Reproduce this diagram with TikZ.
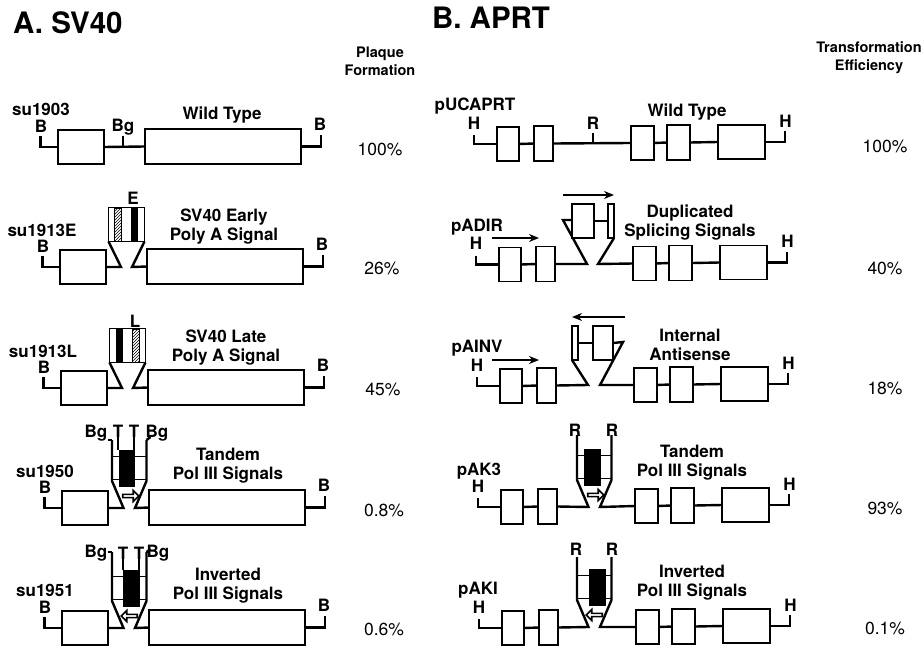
\documentclass[tikz,border=0pt]{standalone}
\usepackage{fontspec}
\setmainfont{TeX Gyre Heros}
\usepackage{tikz}
\usetikzlibrary{shapes.arrows,arrows.meta,patterns}

\begin{document}
\begin{tikzpicture}[x=1pt, y=-1pt,
    every node/.style={inner sep=0pt, outer sep=0pt},
    exon/.style 2 args={rectangle, draw, line width=1.8pt, fill=white, minimum width=#1pt, minimum height=#2pt},
    gene/.style={line width=2.4pt},
    lab/.style={font=\fontsize{17}{19}\selectfont\bfseries, align=center},
    head/.style={font=\fontsize{14.5}{18}\selectfont\bfseries, align=center},
    title/.style={font=\fontsize{29.5}{32}\selectfont\bfseries, anchor=west},
    pct/.style={font=\fontsize{17.5}{20}\selectfont},
    blackbar/.style={rectangle, fill=black},
    hatchbar/.style={rectangle, draw, line width=1pt, pattern=north east lines},
    signal/.style={single arrow, draw, fill=white, line width=1.6pt, minimum height=16pt, minimum width=11pt, single arrow head extend=2pt},
    sense/.style={-{Stealth[length=10pt,width=8pt]}, line width=2.4pt}]
    \useasboundingbox (0,0) rectangle (923,650);

    \node[title] (ta) at (13,23) {A. SV40};
    \node[title] (tb) at (432,18) {B. APRT};
    \node[head] (ha) at (380,61) {Plaque\\Formation};
    \node[head] (hb) at (869,57.5) {Transformation\\Efficiency};

    % panel A, rows
    \foreach \row/\dx/\dy in {1/0/0,2/2/120,3/3/241,4/4/361,5/4/481}{
      \begin{scope}[shift={(\dx,\dy)}]
        \node[exon={46}{34}] (a\row-1) at (81,147) {};
        \node[exon={156}{35}] (a\row-2) at (223,146.5) {};
        \node[lab] (a\row-bl) at (41,126.5) {B};
        \node[lab] (a\row-br) at (320,124.5) {B};
        \coordinate (a\row-sl) at (40.5,136);
        \coordinate (a\row-sr) at (321,135);
        \draw[gene] (a\row-sl) |- (a\row-1.west);
        \draw[gene] (a\row-2.east) -| (a\row-sr);
      \end{scope}}

    % panel B, rows
    \foreach \row/\dx/\dy in {1/0/0,2/2/120.5,3/3/242,4/4/363,5/5/484}{
      \begin{scope}[shift={(\dx,\dy)}]
        \node[exon={22}{34}] (b\row-1) at (508,144) {};
        \node[exon={19}{35}] (b\row-2) at (543.5,143.5) {};
        \node[exon={23}{34}] (b\row-3) at (642.5,143) {};
        \node[exon={23}{35}] (b\row-4) at (678.5,142.5) {};
        \node[exon={47}{34}] (b\row-5) at (741.5,142) {};
        \node[lab] (b\row-hl) at (474,123) {H};
        \node[lab] (b\row-hr) at (785.5,121) {H};
        \coordinate (b\row-sl) at (474,135);
        \coordinate (b\row-sr) at (785,131);
        \draw[gene] (b\row-sl) |- (b\row-1.west);
        \draw[gene] (b\row-1.east) -- (b\row-2.west);
        \draw[gene] (b\row-3.east) -- (b\row-4.west);
        \draw[gene] (b\row-4.east) -- (b\row-5.west);
        \draw[gene] (b\row-5.east) -| (b\row-sr);
      \end{scope}}

    % wild type joins
    \node[lab] (a1bg) at (123,127) {Bg};
    \coordinate (a1tick) at (123,136);
    \draw[gene] (a1-1.east) -- (a1-2.west);
    \draw[line width=1.6pt] (a1tick) -- (a1tick |- a1-1);
    \node[lab] (b1r) at (593,123) {R};
    \coordinate (b1tick) at (593,133);
    \draw[gene] (b1-2.east) -- (b1-3.west);
    \draw[line width=1.6pt] (b1tick) -- (b1tick |- b1-3);

    % poly A inserts
    \foreach \row/\dx/\dy/\barl/\barr in {2/2/120/hatchbar/blackbar,3/3/241/blackbar/hatchbar}{
      \begin{scope}[shift={(\dx,\dy)}]
        \coordinate (a\row-fl) at (119,147);
        \coordinate (a\row-fr) at (130,147);
        \node[exon={36}{34}] (a\row-ins) at (124.5,104.5) {};
        \node[\barl, minimum width=7pt, minimum height=33pt] (a\row-bl1) at (116,104.5) {};
        \node[\barr, minimum width=7pt, minimum height=33pt] (a\row-bl2) at (132.5,104.5) {};
        \draw[gene] (a\row-1.east) -- (a\row-fl) -- (a\row-ins.south west);
        \draw[gene] (a\row-2.west) -- (a\row-fr) -- (a\row-ins.south east);
      \end{scope}}

    % pol III inserts
    \foreach \ins/\lb/\rb/\ox/\oy/\tp/\blk/\rot in {a4/a4-1/a4-2/112/508/68/15/0,a5/a5-1/a5-2/112/628/76/19.5/180,b4/b4-2/b4-3/577/507/72/15.5/0,b5/b5-2/b5-3/577/627/70/20.5/180}{
      \begin{scope}[shift={(\ox,\oy)}]
        \coordinate (\ins-tl) at (0,-\tp);
        \coordinate (\ins-tr) at (34.5,-\tp);
        \coordinate (\ins-sl) at (0,-27);
        \coordinate (\ins-sr) at (34.5,-27);
        \coordinate (\ins-fl) at (11.5,0);
        \coordinate (\ins-fr) at (23,0);
        \node[exon={34.5}{23}] (\ins-box) at (17.25,-40) {};
        \node[blackbar, minimum width=16.5pt, minimum height=37pt] (\ins-blk) at (\blk,-40) {};
        \node[signal, shape border rotate=\rot] (\ins-arr) at (18,-12) {};
        \draw[gene] (\lb.east) -- (\ins-fl) -- (\ins-sl) -- (\ins-tl);
        \draw[gene] (\rb.west) -- (\ins-fr) -- (\ins-sr) -- (\ins-tr);
      \end{scope}}

    % panel A, labels
    \node[lab] (a1n) at (41,109) {su1903};
    \node[lab] (a1t) at (222,115) {Wild Type};
    \node[lab] (a2n) at (42,230) {su1913E};
    \node[lab] (a2e) at (133,198) {E};
    \node[lab] (a2t) at (224,226.5) {SV40 Early\\Poly A Signal};
    \node[lab] (a3n) at (43,351.5) {su1913L};
    \node[lab] (a3e) at (135,321) {L};
    \node[lab] (a3t) at (226,347.5) {SV40 Late\\Poly A Signal};
    \node[lab] (a4n) at (45,471) {su1950};
    \node[lab] (a4t) at (228,466) {Tandem\\Pol III Signals};
    \node[lab] (a4bl) at (96,433) {Bg};
    \node[lab] (a4br) at (157,433) {Bg};
    \node[lab] (a4t1) at (118,431) {T};
    \node[lab] (a4t2) at (134,431) {T};
    \node[lab] (a5n) at (45,590) {su1951};
    \node[lab] (a5t) at (228,586) {Inverted\\Pol III Signals};
    \node[lab] (a5bl) at (96,553) {Bg};
    \node[lab] (a5br) at (158,553) {Bg};
    \node[lab] (a5t1) at (123,553) {T};
    \node[lab] (a5t2) at (139,553) {T};
    \foreach \ins in {a4,a5}{
      \draw[gene] (\ins-tl) -- ++(-4,0);
      \draw[gene] (\ins-tr) -- ++(4,-3);
      \draw[line width=1.6pt] (\ins t1.south) -- (\ins t1.south |- \ins-blk.north);
      \draw[line width=1.6pt] (\ins t2.south) -- (\ins t2.south |- \ins-blk.north);
    }
    \foreach \row/\x/\y/\val in {1/380/149/100\%,2/382/268/26\%,3/383/389/45\%,4/384/510/0.8\%,5/384/629/0.6\%}
      \node[pct] (a\row-p) at (\x,\y) {\val};

    % panel B, labels
    \node[lab] (b1n) at (475,106) {pUCAPRT};
    \node[lab] (b1t) at (687,112) {Wild Type};
    \node[lab] (b2n) at (477,227) {pADIR};
    \node[lab] (b2d) at (690,222.5) {Duplicated\\Splicing Signals};
    \node[lab] (b3n) at (477,348) {pAINV};
    \node[lab] (b3d) at (690,344.5) {Internal\\Antisense};
    \node[lab] (b4n) at (479,471) {pAK3};
    \node[lab] (b4t) at (692,463) {Tandem\\Pol III Signals};
    \node[lab] (b4rl) at (575,430) {R};
    \node[lab] (b4rr) at (612,430) {R};
    \node[lab] (b5n) at (478,590) {pAKI};
    \node[lab] (b5t) at (692,583) {Inverted\\Pol III Signals};
    \node[lab] (b5rl) at (576,549) {R};
    \node[lab] (b5rr) at (612,549) {R};
    \foreach \row/\y/\val in {1/146/100\%,2/268/40\%,3/388/18\%,4/508/93\%,5/628/0.1\%}
      \node[pct] (b\row-p) at (885,\y) {\val};

    % duplicated splicing signals
    \coordinate (b2fl) at (587,264);
    \coordinate (b2sl) at (563,220);
    \coordinate (b2sm) at (573,220);
    \coordinate (b2fr) at (598,264);
    \draw[gene] (b2-2.east) -- (b2fl) -- (b2sl) -- (b2sm);
    \node[exon={22}{34}] (b2a) at (583,221) {};
    \node[exon={6}{34}] (b2b) at (611,221) {};
    \draw[gene] (b2a.east) -- (b2b.west);
    \draw[gene] (b2b.south east) -- (b2fr) -- (b2-3.west);
    \coordinate (b2u1) at (563,195);
    \coordinate (b2u2) at (614,195);
    \coordinate (b2l1) at (492,238);
    \coordinate (b2l2) at (539,238);
    \draw[sense] (b2u1) -- (b2u2);
    \draw[sense] (b2l1) -- (b2l2);

    % internal antisense
    \coordinate (b3fl) at (588,385);
    \coordinate (b3sr) at (623,342);
    \coordinate (b3fr) at (600,385);
    \node[exon={6}{34}] (b3b) at (575,343) {};
    \node[exon={20}{34}] (b3a) at (603,343) {};
    \draw[gene] (b3-2.east) -- (b3fl) -- (b3b.south west);
    \draw[gene] (b3b.east) -- (b3a.west);
    \draw[gene] (b3a.east) -- (b3sr) -- (b3fr) -- (b3-3.west);
    \coordinate (b3u1) at (625,317);
    \coordinate (b3u2) at (572,317);
    \coordinate (b3l1) at (492,360);
    \coordinate (b3l2) at (539,360);
    \draw[sense] (b3u1) -- (b3u2);
    \draw[sense] (b3l1) -- (b3l2);
  \end{tikzpicture}
\end{document}
